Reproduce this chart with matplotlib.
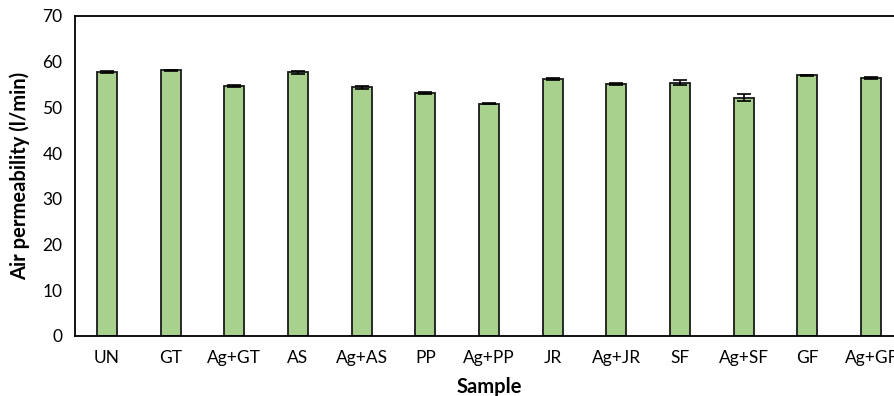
import matplotlib
matplotlib.use("Agg")
import matplotlib.pyplot as plt

samples = ["UN", "GT", "Ag+GT", "AS", "Ag+AS", "PP", "Ag+PP",
           "JR", "Ag+JR", "SF", "Ag+SF", "GF", "Ag+GF"]
permeability = [57.8, 58.1, 54.7, 57.7, 54.4, 53.1, 50.8,
                56.2, 55.2, 55.4, 52.1, 57.0, 56.4]
errors = [0.2, 0.15, 0.15, 0.3, 0.35, 0.2, 0.15,
          0.15, 0.25, 0.5, 0.75, 0.1, 0.2]
y_ticks = [0, 10, 20, 30, 40, 50, 60, 70]

plt.rcParams["font.family"] = ["Lato", "DejaVu Sans"]

fig = plt.figure(figsize=(8.95, 3.96), dpi=100)
W, H = 895, 396
ax = fig.add_axes([75 / W, 1 - 336 / H, (903 - 75) / W, (336 - 16) / H])

x = range(len(samples))
ax.bar(x, permeability, width=0.315, color="#A9D18E", edgecolor="#1a1a1a",
       linewidth=1.3, zorder=2)
ax.errorbar(x, permeability, yerr=errors, fmt="none", ecolor="black",
            elinewidth=1.2, capsize=5, capthick=1.2, zorder=3)

ax.set_xlim(-0.5, len(samples) - 0.5)
ax.set_ylim(0, 70)
ax.set_yticks(y_ticks)
ax.set_xticks(list(x))
ax.set_xticklabels(samples)
ax.tick_params(axis="both", length=0, labelsize=12.5, colors="black")
ax.tick_params(axis="y", pad=9)
ax.tick_params(axis="x", pad=10)

for s in ax.spines.values():
    s.set_linewidth(1.3)
    s.set_color("black")

ax.set_xlabel("Sample", fontsize=14.5, fontweight="bold", labelpad=8)
ax.set_ylabel("Air permeability (l/min)", fontsize=14.5, fontweight="bold")
ax.yaxis.set_label_coords(-55 / (903 - 75), 0.5)
ax.yaxis.label.set_va("center")

fig.savefig("out.png", dpi=100)
